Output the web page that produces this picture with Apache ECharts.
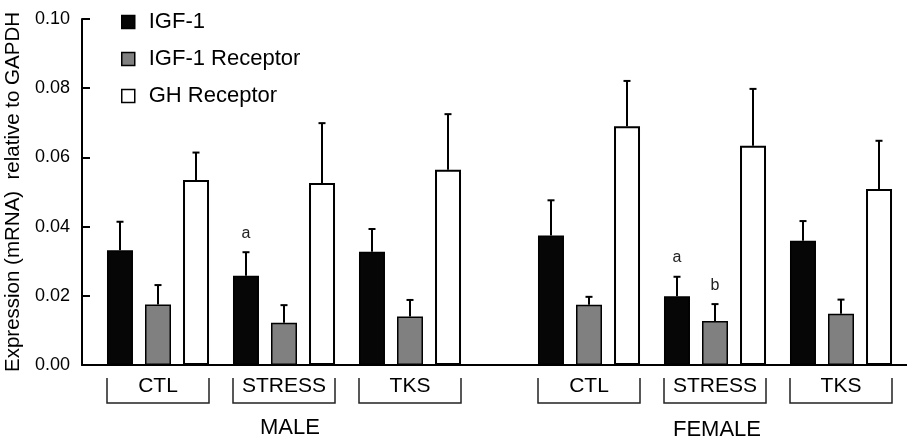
<!DOCTYPE html>
<html>
<head>
<meta charset="utf-8">
<script src="https://cdn.jsdelivr.net/npm/echarts@6/dist/echarts.min.js"></script>
<style>
html,body{margin:0;padding:0;background:#fff;}
#chart{width:907px;height:443px;}
</style>
</head>
<body>
<div id="chart"></div>
<script>
// ---- data ----
var categories = ['CTL', 'STRESS', 'TKS'];
var groupNames = ['MALE', 'FEMALE'];
var seriesNames = ['IGF-1', 'IGF-1 Receptor', 'GH Receptor'];
var yTicks = [0, 0.02, 0.04, 0.06, 0.08, 0.10];

var maleIGF1 = [0.0332, 0.0258, 0.0327];
var maleIGF1Sem = [0.0082, 0.0068, 0.0066];
var maleIGF1R = [0.0175, 0.0122, 0.0140];
var maleIGF1RSem = [0.0056, 0.0051, 0.0048];
var maleGHR = [0.0535, 0.0526, 0.0564];
var maleGHRSem = [0.0079, 0.0173, 0.0161];

var femaleIGF1 = [0.0374, 0.0199, 0.0359];
var femaleIGF1Sem = [0.0102, 0.0056, 0.0057];
var femaleIGF1R = [0.0174, 0.0127, 0.0148];
var femaleIGF1RSem = [0.0023, 0.0049, 0.0041];
var femaleGHR = [0.0690, 0.0634, 0.0509];
var femaleGHRSem = [0.0131, 0.0164, 0.0139];

// significance letters: [seriesIndex, categoryIndex, text]
var maleLetters = [[0, 1, 'a']];
var femaleLetters = [[0, 1, 'a'], [1, 1, 'b']];

// ---- styles ----
var BAR_W = 26, BAR_GAP = 12, STEP = BAR_W + BAR_GAP;
var FONT = 'Liberation Sans, Arial, sans-serif';
var fills = ['#060606', '#808080', '#ffffff'];

var groups = [
  {means: [maleIGF1, maleIGF1R, maleGHR], sems: [maleIGF1Sem, maleIGF1RSem, maleGHRSem], letters: maleLetters},
  {means: [femaleIGF1, femaleIGF1R, femaleGHR], sems: [femaleIGF1Sem, femaleIGF1RSem, femaleGHRSem], letters: femaleLetters}
];

var chart = echarts.init(document.getElementById('chart'));

var grids = [
  {left: 82, right: 0, top: 19, bottom: 78, outerBoundsMode: 'none', containLabel: false},
  {left: 95, width: 378, top: 19, bottom: 78, outerBoundsMode: 'none', containLabel: false},
  {left: 526, width: 378, top: 19, bottom: 78, outerBoundsMode: 'none', containLabel: false}
];

var xAxes = [
  {type: 'value', gridIndex: 0, min: 0, max: 1, axisLine: {show: true, lineStyle: {color: '#000', width: 2}},
   axisTick: {show: false}, axisLabel: {show: false}, splitLine: {show: false}}
];
var yAxes = [
  {type: 'value', gridIndex: 0, min: 0, max: 0.1, interval: 0.02,
   name: 'Expression (mRNA)  relative to GAPDH', nameLocation: 'middle', nameGap: 53,
   nameTextStyle: {fontSize: 20.5, color: '#000', fontFamily: FONT},
   axisLine: {show: true, lineStyle: {color: '#000', width: 2}},
   axisTick: {show: true, inside: true, length: 8, lineStyle: {color: '#000', width: 2}},
   axisLabel: {fontSize: 18, color: '#000', fontFamily: FONT, margin: 12,
     formatter: function (v) { return v.toFixed(2); }},
   splitLine: {show: false}}
];

var series = [];
groups.forEach(function (g, gi) {
  var gIdx = gi + 1;
  xAxes.push({type: 'category', gridIndex: gIdx, data: categories,
    axisLine: {show: false}, axisTick: {show: false},
    axisLabel: {interval: 0, fontSize: 21, color: '#000', fontFamily: FONT, margin: 11},
    name: groupNames[gi], nameLocation: 'middle', nameGap: gi === 0 ? 52 : 54,
    nameTextStyle: {fontSize: 22, color: '#000', fontFamily: FONT, padding: gi === 0 ? [0, 0, 0, 12] : [0, 0, 0, 4]}});
  yAxes.push({type: 'value', gridIndex: gIdx, min: 0, max: 0.1, interval: 0.02, show: false});

  seriesNames.forEach(function (name, si) {
    series.push({
      type: 'bar', name: name, xAxisIndex: gIdx, yAxisIndex: gIdx,
      data: g.means[si], barWidth: BAR_W, barGap: (BAR_GAP / BAR_W * 100).toFixed(1) + '%',
      itemStyle: {color: fills[si], borderColor: '#000', borderWidth: si === 2 ? 2 : 1.5},
      emphasis: {disabled: true}, z: 2
    });
  });

  // error bars
  var errData = [];
  g.means.forEach(function (arr, si) {
    arr.forEach(function (m, ci) {
      var letter = '';
      g.letters.forEach(function (L) { if (L[0] === si && L[1] === ci) letter = L[2]; });
      errData.push({value: [ci, si, m, m + g.sems[si][ci]], letter: letter});
    });
  });
  series.push({
    type: 'custom', xAxisIndex: gIdx, yAxisIndex: gIdx, clip: false, z: 3, silent: true,
    data: errData,
    renderItem: function (params, api) {
      var ci = api.value(0), si = api.value(1);
      var base = api.coord([ci, api.value(2)]);
      var top = api.coord([ci, api.value(3)]);
      var x = base[0] + (si - 1) * STEP;
      var children = [
        {type: 'line', shape: {x1: x, y1: base[1], x2: x, y2: top[1]}, style: {stroke: '#000', lineWidth: 2}},
        {type: 'line', shape: {x1: x - 3.5, y1: top[1], x2: x + 3.5, y2: top[1]}, style: {stroke: '#000', lineWidth: 2}}
      ];
      var item = errData[params.dataIndex];
      if (item.letter) {
        children.push({type: 'text', style: {text: item.letter, x: x, y: top[1] - 19, align: 'center', verticalAlign: 'middle',
          fontSize: 16, fill: '#222', fontFamily: FONT}});
      }
      return {type: 'group', children: children};
    }
  });

  // brackets under each category
  series.push({
    type: 'custom', xAxisIndex: gIdx, yAxisIndex: gIdx, clip: false, z: 3, silent: true,
    data: categories.map(function (c, i) { return [i, 0]; }),
    renderItem: function (params, api) {
      var c = api.coord([api.value(0), 0]);
      var half = (3 * BAR_W + 2 * BAR_GAP) / 2;
      return {type: 'polyline', shape: {points: [[c[0] - half, c[1] + 13], [c[0] - half, c[1] + 38], [c[0] + half, c[1] + 38], [c[0] + half, c[1] + 13]]},
        style: {stroke: '#222', lineWidth: 1.5, fill: null}};
    }
  });
});

chart.setOption({
  animation: false,
  backgroundColor: '#fff',
  grid: grids,
  xAxis: xAxes,
  yAxis: yAxes,
  legend: {
    data: seriesNames, orient: 'vertical', left: 116, top: 6,
    itemWidth: 13, itemHeight: 13, itemGap: 15, icon: 'rect',
    itemStyle: {borderColor: '#000', borderWidth: 1.5},
    textStyle: {fontSize: 22, color: '#000', fontFamily: FONT, padding: [0, 0, 0, 9]},
    selectedMode: false
  },
  series: series
});
</script>
</body>
</html>
